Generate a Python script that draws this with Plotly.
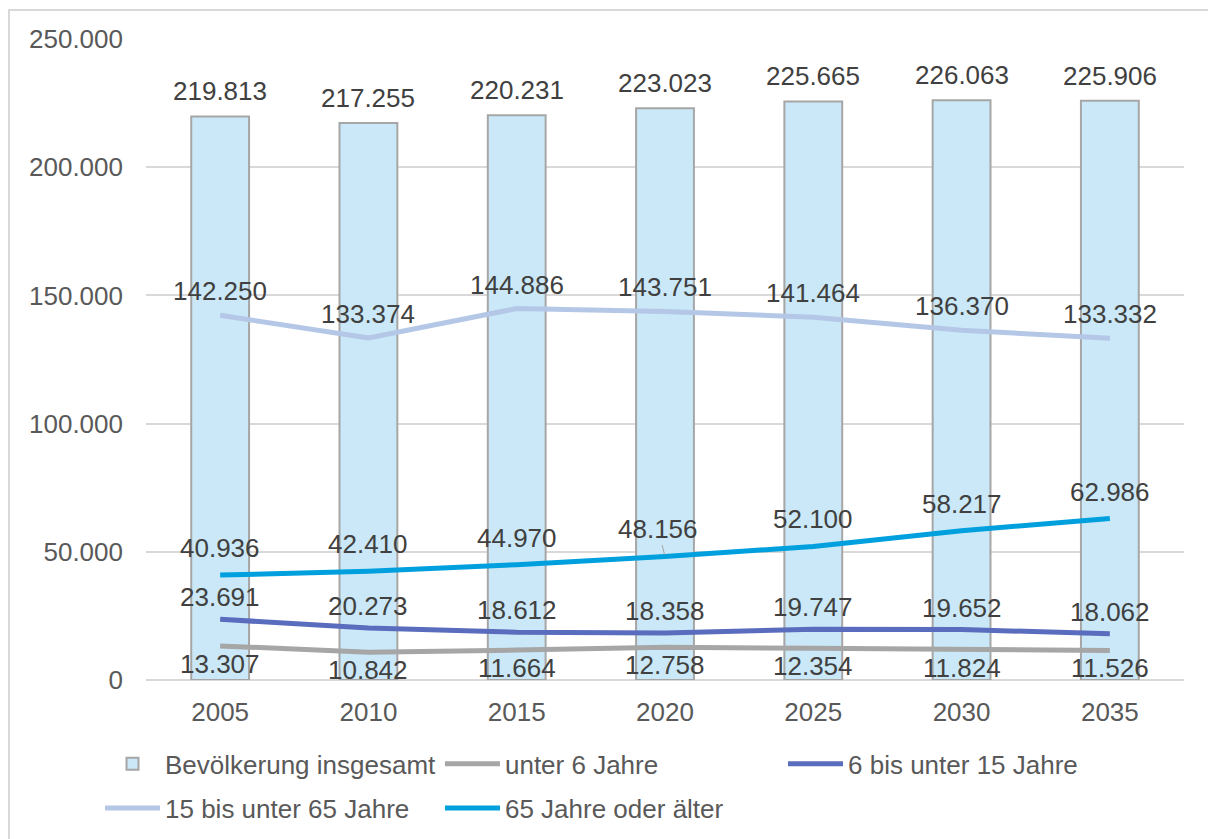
import plotly.graph_objects as go

# Bevölkerungsentwicklung nach Altersgruppen
jahre = ["2005", "2010", "2015", "2020", "2025", "2030", "2035"]
insgesamt = [219813, 217255, 220231, 223023, 225665, 226063, 225906]
unter_6 = [13307, 10842, 11664, 12758, 12354, 11824, 11526]
von_6_bis_15 = [23691, 20273, 18612, 18358, 19747, 19652, 18062]
von_15_bis_65 = [142250, 133374, 144886, 143751, 141464, 136370, 133332]
ab_65 = [40936, 42410, 44970, 48156, 52100, 58217, 62986]
y_ticks = [0, 50000, 100000, 150000, 200000, 250000]

FONT = "Liberation Sans, Arial, sans-serif"
LABEL_COLOR = "#404040"
AXIS_COLOR = "#595959"


def fmt(v):
    return f"{v:,}".replace(",", ".")


fig = go.Figure()

fig.add_trace(go.Bar(
    x=jahre, y=insgesamt, name="Bevölkerung insgesamt",
    width=0.39,
    marker=dict(color="#CAE8F7", line=dict(color="#A6A6A6", width=2)),
    legend="legend",
))

linien = [
    ("unter 6 Jahre", unter_6, "#A6A6A6", "legend2"),
    ("6 bis unter 15 Jahre", von_6_bis_15, "#5A6CBD", "legend3"),
    ("15 bis unter 65 Jahre", von_15_bis_65, "#B4C7E7", "legend4"),
    ("65 Jahre oder älter", ab_65, "#00A0DF", "legend5"),
]
for name, vals, color, lg in linien:
    fig.add_trace(go.Scatter(
        x=jahre, y=vals, name=name, mode="lines",
        line=dict(color=color, width=5),
        legend=lg,
    ))

# data labels: (values, vertical offset in px, positive = up); x as category index
label_sets = [
    (insgesamt, 25),
    (von_15_bis_65, 24),
    (ab_65, 27),
    (von_6_bis_15, 22),
    (unter_6, -18),
]
annotations = []
for vals, shift in label_sets:
    for i, v in enumerate(vals):
        label = dict(
            x=i, y=v, text=fmt(v), showarrow=False, yshift=shift,
            font=dict(family=FONT, size=26, color=LABEL_COLOR),
        )
        if vals is ab_65 and jahre[i] == "2020":
            # this label sits slightly left, tied to its point by a leader line
            label.update(showarrow=True, yshift=0, ax=-7, ay=-28,
                         arrowhead=0, arrowwidth=1, arrowcolor="#A6A6A6",
                         standoff=2)
        annotations.append(label)


def legend_style(x, y, itemwidth=55):
    return dict(
        x=x, y=y, orientation="v", xanchor="left", yanchor="middle",
        font=dict(family=FONT, size=26, color=AXIS_COLOR),
        bgcolor="rgba(0,0,0,0)", borderwidth=0, itemwidth=itemwidth,
        itemclick=False, itemdoubleclick=False,
    )


ROW1, ROW2 = -0.131, -0.1997
COL1, COL2, COL3 = -0.0443, 0.2832, 0.6137

fig.update_layout(
    width=1208, height=839,
    margin=dict(l=146, r=24, t=39, b=159, autoexpand=False),
    paper_bgcolor="white", plot_bgcolor="white",
    font=dict(family=FONT, size=26, color=AXIS_COLOR),
    separators=",.",
    barmode="overlay",
    showlegend=True,
    legend=legend_style(COL1, ROW1),
    legend2=legend_style(COL2, ROW1),
    legend3=legend_style(COL3, ROW1),
    legend4=legend_style(COL1, ROW2),
    legend5=legend_style(COL2, ROW2),
    xaxis=dict(
        type="category", range=[-0.5, 6.5], autorange=False,
        showgrid=False, showline=False, ticks="",
        tickfont=dict(family=FONT, size=26, color=AXIS_COLOR),
        ticklabelstandoff=14,
    ),
    yaxis=dict(
        range=[0, 250000], autorange=False, tickvals=y_ticks, tickformat=",d",
        showgrid=True, gridcolor="#D9D9D9", gridwidth=1.5,
        zeroline=True, zerolinecolor="#D9D9D9", zerolinewidth=1.5,
        showline=False, ticks="",
        tickfont=dict(family=FONT, size=26, color=AXIS_COLOR),
        ticklabelstandoff=22,
    ),
    annotations=annotations,
    shapes=[dict(
        type="rect", xref="paper", yref="paper",
        x0=-0.132, x1=1.2, y0=-0.5, y1=1.0452,
        line=dict(color="#D9D9D9", width=2), fillcolor="rgba(0,0,0,0)",
        layer="below",
    )],
)

fig.write_html("out.html")
